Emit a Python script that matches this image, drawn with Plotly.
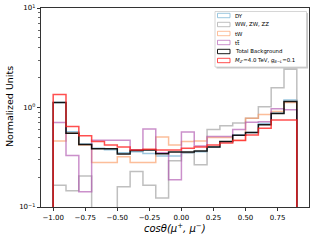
import plotly.graph_objects as go

# ---- data ----
bin_edges = [-1.0, -0.9, -0.8, -0.7, -0.6, -0.5, -0.4, -0.3, -0.2, -0.1,
             0.0, 0.1, 0.2, 0.3, 0.4, 0.5, 0.6, 0.7, 0.8, 0.9]
dy = [1.12, 0.57, 0.43, 0.39, 0.376, 0.35, 0.36, 0.345, 0.325, 0.325,
      0.35, 0.36, 0.40, 0.45, 0.53, 0.56, 0.69, 0.88, 1.19]
diboson = [0.165, 0.146, 0.205, 0.001, 0.001, 0.16, 0.227, 0.165, 0.123, 0.292,
           0.35, 0.266, 0.60, 0.655, 0.70, 0.78, 1.02, 1.58, 2.42]
tw = [0.46, 0.55, 0.42, 0.28, 0.28, 0.32, 0.28, 0.28, 0.505, 0.42,
      0.456, 0.46, 0.50, 0.50, 0.47, 0.78, 0.85, 0.91, 1.12]
ttbar = [0.707, 0.33, 0.142, 0.47, 0.47, 0.47, 0.376, 0.607, 0.35, 0.188,
         0.566, 0.41, 0.51, 0.51, 0.60, 0.71, 0.72, 0.97, 0.95]
total_bkg = [1.12, 0.55, 0.425, 0.385, 0.385, 0.34, 0.37, 0.375, 0.343, 0.357,
             0.357, 0.365, 0.40, 0.455, 0.525, 0.56, 0.67, 0.87, 1.15]
signal = [1.35, 0.645, 0.52, 0.456, 0.42, 0.40, 0.375, 0.38, 0.375, 0.375,
          0.39, 0.40, 0.42, 0.44, 0.465, 0.53, 0.62, 0.75, 0.75]

labels = ["DY", "WW, ZW, ZZ", "tW", "t<span style='text-decoration:overline'>t</span>",
          "Total Background",
          "<i>M</i><sub><i>Z'</i></sub>=4.0 TeV, <i>g</i><sub><i>B−L</i></sub>=0.1"]
x_ticks = [-1.0, -0.75, -0.5, -0.25, 0.0, 0.25, 0.5, 0.75]

series = [dy, diboson, tw, ttbar, total_bkg, signal]
colors = ["rgba(130,185,215,0.8)", "rgba(170,170,170,0.75)", "rgba(250,155,100,0.65)",
          "rgba(175,85,175,0.65)", "rgba(0,0,0,0.9)", "rgba(255,35,35,0.8)"]

W, H = 315, 240
L, R, T, B = 41, 6, 8, 33
pw, ph = W - L - R, H - T - B

fig = go.Figure()
floor = 1e-4
for vals, col in zip(series, colors):
    xs = [bin_edges[0]] + bin_edges + [bin_edges[-1]]
    ys = [floor] + vals + [vals[-1], floor]
    fig.add_trace(go.Scatter(x=xs, y=ys, mode="lines", line=dict(color=col, width=1.5, shape="hv"),
                             showlegend=False, hoverinfo="skip", cliponaxis=True))

def px2x(px):
    return (px - L) / pw
def py2y(py):
    return (H - B - py) / ph

shapes = []
annotations = []
shapes.append(dict(type="rect", xref="paper", yref="paper", x0=px2x(216.5), x1=px2x(308), y0=py2y(68.5), y1=py2y(13),
                   fillcolor="rgba(0,0,0,0.22)", line=dict(width=0)))
shapes.append(dict(type="rect", xref="paper", yref="paper", x0=px2x(215), x1=px2x(306.5), y0=py2y(67), y1=py2y(11.5),
                   fillcolor="white", line=dict(color="#cccccc", width=0.8)))
row_y = [15.5, 24.5, 33.5, 42.5, 51.5, 60.5]
for lab, col, ry in zip(labels, colors, row_y):
    shapes.append(dict(type="rect", xref="paper", yref="paper", x0=px2x(217.5), x1=px2x(230), y0=py2y(ry + 2.2),
                       y1=py2y(ry - 2.2), fillcolor="rgba(0,0,0,0)", line=dict(color=col, width=1)))
    annotations.append(dict(xref="paper", yref="paper", x=px2x(233.5), y=py2y(ry), text=lab, showarrow=False,
                            xanchor="left", yanchor="middle", borderpad=0,
                            font=dict(size=5.4, color="black", family="DejaVu Sans")))

# axis titles
annotations.append(dict(xref="paper", yref="paper", x=px2x(175), y=py2y(228), text="<i>cosθ(μ<sup>+</sup>, μ<sup>−</sup>)</i>",
                        showarrow=False, xanchor="center", yanchor="middle", font=dict(size=10)))
annotations.append(dict(xref="paper", yref="paper", x=px2x(9), y=py2y(107), text="Normalized Units", textangle=-90,
                        showarrow=False, xanchor="center", yanchor="middle", font=dict(size=9.5)))

fig.update_layout(
    width=W, height=H, margin=dict(l=L, r=R, t=T, b=B, autoexpand=False),
    paper_bgcolor="white", plot_bgcolor="white",
    font=dict(family="DejaVu Sans", size=7, color="black"),
    shapes=shapes, annotations=annotations, showlegend=False, hovermode=False,
    xaxis=dict(range=[-1.095, 0.995], tickvals=x_ticks, automargin=False, fixedrange=True,
               ticktext=[("−" if v < 0 else "") + f"{abs(v):.2f}" for v in x_ticks],
               ticks="outside", ticklen=3.5, tickwidth=0.8, tickcolor="black", tickfont=dict(size=7),
               showline=True, linecolor="black", linewidth=0.8, mirror=True, showgrid=False, zeroline=False),
    yaxis=dict(type="log", range=[-1, 1], tickvals=[0.1, 1, 10], automargin=False, fixedrange=True,
               ticktext=["10<sup>−1</sup>", "10<sup>0</sup>", "10<sup>1</sup>"],
               ticks="outside", ticklen=3.5, tickwidth=0.8, tickcolor="black", tickfont=dict(size=7),
               minor=dict(ticks="outside", ticklen=2, tickwidth=0.6, tickcolor="black",
                          tickvals=[0.2, 0.3, 0.4, 0.5, 0.6, 0.7, 0.8, 0.9, 2, 3, 4, 5, 6, 7, 8, 9]),
               showline=True, linecolor="black", linewidth=0.8, mirror=True, showgrid=False, zeroline=False),
)

fig.write_html("out.html", config={"displayModeBar": False, "staticPlot": True},
               post_script="document.body.style.margin='0px';document.body.style.overflow='hidden';")
